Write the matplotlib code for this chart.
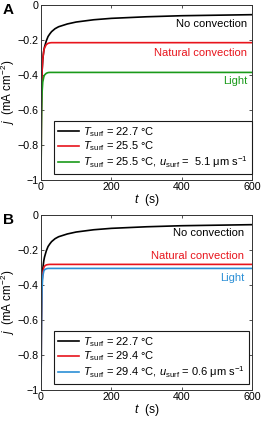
import matplotlib
matplotlib.use("Agg")
import matplotlib.pyplot as plt

plt.rcParams["font.family"] = ["Liberation Sans", "DejaVu Sans"]
plt.rcParams["mathtext.fontset"] = "custom"
plt.rcParams["mathtext.rm"] = "Liberation Sans"
plt.rcParams["mathtext.it"] = "Liberation Sans:italic"
plt.rcParams["font.size"] = 8

# time axis (s) shared by all curves
t = [0.3, 1, 2, 3, 5, 8, 10, 15, 20, 25, 30, 40, 50, 75, 100, 150, 200, 300, 400, 500, 600]

# panel A current densities (mA cm^-2)
a_none = [-0.95, -0.62, -0.46, -0.38, -0.31, -0.26, -0.24, -0.205, -0.18, -0.165, -0.152, -0.135,
          -0.124, -0.108, -0.097, -0.084, -0.076, -0.067, -0.061, -0.058, -0.055]
a_natural = [-0.95, -0.62, -0.46, -0.38, -0.31, -0.26, -0.245, -0.226, -0.219, -0.216, -0.215, -0.215,
             -0.215, -0.215, -0.215, -0.215, -0.215, -0.215, -0.215, -0.215, -0.215]
a_light = [-0.97, -0.72, -0.58, -0.5, -0.44, -0.41, -0.4, -0.39, -0.386, -0.385, -0.385, -0.385,
           -0.385, -0.385, -0.385, -0.385, -0.385, -0.385, -0.385, -0.385, -0.385]

# panel B current densities (mA cm^-2)
b_none = [-0.95, -0.62, -0.46, -0.38, -0.31, -0.26, -0.24, -0.205, -0.18, -0.165, -0.152, -0.135,
          -0.124, -0.108, -0.097, -0.084, -0.076, -0.067, -0.061, -0.058, -0.055]
b_natural = [-0.95, -0.62, -0.46, -0.38, -0.33, -0.3, -0.292, -0.285, -0.283, -0.282, -0.282, -0.282,
             -0.282, -0.282, -0.282, -0.282, -0.282, -0.282, -0.282, -0.282, -0.282]
b_light = [-0.97, -0.7, -0.52, -0.42, -0.35, -0.32, -0.313, -0.307, -0.305, -0.305, -0.305, -0.305,
           -0.305, -0.305, -0.305, -0.305, -0.305, -0.305, -0.305, -0.305, -0.305]

a_labels = [r"$T_\mathrm{surf}$ = 22.7 °C", r"$T_\mathrm{surf}$ = 25.5 °C",
            r"$T_\mathrm{surf}$ = 25.5 °C, $u_\mathrm{surf}$ =  5.1 μm s$^{-1}$"]
b_labels = [r"$T_\mathrm{surf}$ = 22.7 °C", r"$T_\mathrm{surf}$ = 29.4 °C",
            r"$T_\mathrm{surf}$ = 29.4 °C, $u_\mathrm{surf}$ = 0.6 μm s$^{-1}$"]
curve_names = ["No convection", "Natural convection", "Light"]

xticks = [0, 200, 400, 600]
yticks = [0, -0.2, -0.4, -0.6, -0.8, -1]
yticklabels = ["0", "\u22120.2", "\u22120.4", "\u22120.6", "\u22120.8", "\u22121"]

black = "black"
red = "#e8141c"
green = "#1a9a1a"
blue = "#2b8fd6"

fig = plt.figure(figsize=(2.62, 4.21), dpi=100)
ax_a = fig.add_axes([0.1565, 0.5724, 0.8055, 0.4156])
ax_b = fig.add_axes([0.1565, 0.0736, 0.8055, 0.4156])


def draw_panel(ax, curves, colors, labels, name_y, name_x, letter):
    lines = []
    for y, c, lab in zip(curves, colors, labels):
        ln, = ax.plot(t, y, color=c, lw=1.2, label=lab)
        lines.append(ln)
    for name, c, yy in zip(curve_names, colors, name_y):
        ax.text(name_x, yy, name, color=c, ha="right", va="center", fontsize=8)
    ax.set_xlim(0, 600)
    ax.set_ylim(-1, 0)
    ax.set_xticks(xticks)
    ax.set_yticks(yticks)
    ax.set_yticklabels(yticklabels)
    ax.tick_params(direction="in", length=2.5, width=0.6, top=True, right=True,
                   labelsize=7.7, pad=1.5, color="0.2")
    for s in ax.spines.values():
        s.set_linewidth(0.7)
        s.set_color("0.2")
    ax.set_xlabel(r"$t$  (s)", labelpad=0, fontsize=8.8)
    ax.set_ylabel(r"$j$  (mA cm$^{-2}$)", fontsize=8.4)
    ax.yaxis.set_label_coords(-0.112, 0.5)
    leg = ax.legend(handles=lines, loc="lower left", bbox_to_anchor=(0.062, 0.034),
                    borderaxespad=0, fancybox=False, edgecolor="0.1", fontsize=8,
                    handlelength=1.9, handletextpad=0.35, labelspacing=0.08,
                    borderpad=0.35, framealpha=1)
    leg.get_frame().set_linewidth(0.8)
    ax.text(-0.156, 0.97, letter, transform=ax.transAxes, fontsize=11, fontweight="bold",
            ha="center", va="center")


draw_panel(ax_a, [a_none, a_natural, a_light], [black, red, green], a_labels,
           [-0.11, -0.276, -0.434], 587, "A")
draw_panel(ax_b, [b_none, b_natural, b_light], [black, red, blue], b_labels,
           [-0.105, -0.234, -0.358], 577, "B")

fig.savefig("out.png", dpi=100)
